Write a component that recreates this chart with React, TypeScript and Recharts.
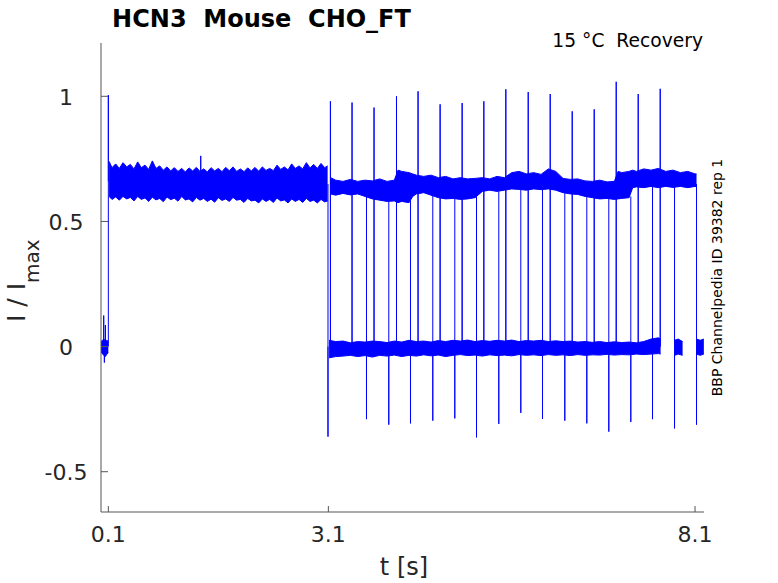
import React from "react";
import { ComposedChart, Area, Line, XAxis, YAxis } from "recharts";

const BLUE = "#0000ff";
const INK = "#262626";
const AXIS = "#555555";
const FONT = '"DejaVu Sans", sans-serif';

// baseline before the conditioning pulse
const preT = [0.0, 0.02, 0.04, 0.06, 0.08, 0.1];
const preLo = [-0.02, -0.03, -0.035, -0.04, -0.03, -0.025];
const preHi = [0.02, 0.025, 0.03, 0.02, 0.025, 0.02];

// conditioning pulse 0.1 - 3.1 s, noise envelope
const pulseT = [
  0.11, 0.15, 0.2, 0.25, 0.3, 0.35, 0.4, 0.45, 0.5, 0.55, 0.6, 0.65, 0.7, 0.75,
  0.8, 0.85, 0.9, 0.95, 1.0, 1.05, 1.1, 1.15, 1.2, 1.25, 1.3, 1.35, 1.4, 1.45,
  1.5, 1.55, 1.6, 1.65, 1.7, 1.75, 1.8, 1.85, 1.9, 1.95, 2.0, 2.05, 2.1, 2.15,
  2.2, 2.25, 2.3, 2.35, 2.4, 2.45, 2.5, 2.55, 2.6, 2.65, 2.7, 2.75, 2.8, 2.85,
  2.9, 2.95, 3.0, 3.05, 3.09,
];
const pulseLo = [
  0.6, 0.588, 0.598, 0.585, 0.6, 0.59, 0.596, 0.582, 0.6, 0.588, 0.594, 0.58,
  0.597, 0.586, 0.592, 0.579, 0.598, 0.587, 0.593, 0.581, 0.6, 0.586, 0.59,
  0.578, 0.596, 0.585, 0.592, 0.58, 0.589, 0.577, 0.595, 0.584, 0.59, 0.58,
  0.596, 0.585, 0.588, 0.576, 0.592, 0.582, 0.585, 0.574, 0.59, 0.58, 0.588,
  0.576, 0.594, 0.582, 0.586, 0.574, 0.59, 0.58, 0.588, 0.576, 0.592, 0.58,
  0.585, 0.574, 0.588, 0.578, 0.582,
];
const pulseHi = [
  0.74, 0.715, 0.73, 0.712, 0.735, 0.718, 0.728, 0.71, 0.738, 0.715, 0.725,
  0.708, 0.742, 0.712, 0.722, 0.705, 0.718, 0.702, 0.715, 0.7, 0.712, 0.698,
  0.714, 0.702, 0.716, 0.7, 0.71, 0.698, 0.715, 0.702, 0.712, 0.699, 0.716,
  0.703, 0.718, 0.7, 0.71, 0.699, 0.714, 0.702, 0.716, 0.701, 0.718, 0.704,
  0.712, 0.703, 0.725, 0.708, 0.718, 0.706, 0.73, 0.712, 0.722, 0.71, 0.735,
  0.714, 0.728, 0.712, 0.732, 0.715, 0.722,
];

// test pulses after 3.1 s, envelope of all sweeps
const testT = [
  3.13, 3.2, 3.3, 3.4, 3.5, 3.6, 3.7, 3.8, 3.9, 4.0, 4.05, 4.1, 4.2, 4.25, 4.3,
  4.4, 4.5, 4.6, 4.7, 4.8, 4.9, 5.0, 5.1, 5.2, 5.3, 5.4, 5.5, 5.6, 5.7, 5.8,
  5.9, 6.0, 6.1, 6.2, 6.3, 6.4, 6.5, 6.6, 6.7, 6.8, 6.9, 7.0, 7.05, 7.1, 7.2,
  7.25, 7.3, 7.4, 7.5, 7.6, 7.7, 7.8, 7.9, 8.0, 8.1, 8.12,
];
const testLo = [
  0.61, 0.605, 0.612, 0.606, 0.61, 0.6, 0.59, 0.585, 0.58, 0.582, 0.575, 0.58,
  0.575, 0.6, 0.61, 0.615, 0.605, 0.595, 0.59, 0.592, 0.588, 0.59, 0.595, 0.62,
  0.625, 0.62, 0.625, 0.63, 0.628, 0.625, 0.63, 0.627, 0.63, 0.625, 0.615, 0.61,
  0.608, 0.6, 0.595, 0.59, 0.592, 0.588, 0.59, 0.592, 0.595, 0.635, 0.638,
  0.635, 0.64, 0.635, 0.64, 0.636, 0.64, 0.635, 0.64, 0.638,
];
const testHi = [
  0.675, 0.665, 0.66, 0.668, 0.66, 0.665, 0.662, 0.67, 0.66, 0.665, 0.705, 0.7,
  0.695, 0.69, 0.685, 0.68, 0.685, 0.675, 0.68, 0.67, 0.675, 0.67, 0.672, 0.675,
  0.67, 0.68, 0.675, 0.695, 0.7, 0.69, 0.695, 0.688, 0.71, 0.7, 0.672, 0.668,
  0.67, 0.662, 0.66, 0.665, 0.658, 0.66, 0.7, 0.695, 0.7, 0.705, 0.7, 0.71,
  0.705, 0.712, 0.7, 0.705, 0.695, 0.7, 0.69, 0.69,
];

// zero level between pulses
const zeroT = [
  3.11, 3.2, 3.3, 3.4, 3.5, 3.6, 3.7, 3.8, 3.9, 4.0, 4.1, 4.2, 4.3, 4.4, 4.5,
  4.6, 4.7, 4.8, 4.9, 5.0, 5.1, 5.2, 5.3, 5.4, 5.5, 5.6, 5.7, 5.8, 5.9, 6.0,
  6.1, 6.2, 6.3, 6.4, 6.5, 6.6, 6.7, 6.8, 6.9, 7.0, 7.1, 7.2, 7.3, 7.4, 7.5,
  7.6, 7.63,
];
const zeroLo = [
  -0.045, -0.04, -0.038, -0.035, -0.04, -0.036, -0.042, -0.035, -0.038, -0.034,
  -0.04, -0.035, -0.038, -0.033, -0.037, -0.034, -0.04, -0.035, -0.032, -0.036,
  -0.034, -0.038, -0.033, -0.036, -0.034, -0.037, -0.032, -0.035, -0.033,
  -0.036, -0.032, -0.035, -0.033, -0.036, -0.032, -0.035, -0.033, -0.034,
  -0.031, -0.034, -0.032, -0.033, -0.03, -0.032, -0.03, -0.028, -0.03,
];
const zeroHi = [
  0.025, 0.02, 0.022, 0.015, 0.02, 0.018, 0.022, 0.02, 0.016, 0.022, 0.018,
  0.025, 0.02, 0.022, 0.018, 0.024, 0.02, 0.025, 0.022, 0.026, 0.02, 0.024,
  0.021, 0.025, 0.022, 0.026, 0.02, 0.024, 0.022, 0.025, 0.02, 0.023, 0.02,
  0.022, 0.018, 0.02, 0.017, 0.02, 0.016, 0.019, 0.016, 0.018, 0.015, 0.02,
  0.03, 0.035, 0.03,
];
const tailAT = [7.82, 7.87, 7.93];
const tailALo = [-0.035, -0.03, -0.035];
const tailAHi = [0.025, 0.03, 0.02];
const tailBT = [8.12, 8.17, 8.22];
const tailBLo = [-0.03, -0.035, -0.03];
const tailBHi = [0.03, 0.025, 0.03];

// onset transients of the test pulses
const upT = [
  3.128, 3.423, 3.723, 4.029, 4.323, 4.624, 4.924, 5.22, 5.52, 5.825, 6.125,
  6.425, 6.725, 7.025, 7.325, 7.625,
];
const upPeak = [
  0.98, 0.975, 0.955, 1.0, 1.02, 0.968, 0.973, 0.98, 1.028, 1.017, 1.009, 0.94,
  0.948, 1.058, 1.009, 1.03,
];

// tail transients at pulse ends
const downT = [
  3.095, 3.62, 3.924, 4.22, 4.524, 4.824, 5.12, 5.424, 5.724, 6.02, 6.324,
  6.624, 6.924, 7.224, 7.52, 7.82, 8.12,
];
const downTrough = [
  -0.36, -0.29, -0.312, -0.307, -0.296, -0.287, -0.363, -0.309, -0.265, -0.289,
  -0.296, -0.307, -0.34, -0.301, -0.29, -0.327, -0.312,
];
const downFrom = [
  0.65, 0.62, 0.6, 0.6, 0.63, 0.61, 0.6, 0.62, 0.64, 0.64, 0.66, 0.62, 0.6,
  0.6, 0.65, 0.65, 0.65,
];

// single glitches
const glitchT = [0.037, 0.06, 0.046, 0.1, 1.36];
const glitchFrom = [0, 0, 0, 0, 0.7];
const glitchTo = [0.124, 0.086, -0.064, 1.005, 0.762];
const glitchBack = [0, 0, 0, 0.66, 0.7];

const xTicks = [0.1, 3.1, 8.1];
const yTicks = [-0.5, 0, 0.5, 1];

type Pt = { t: number; v: number | null };

const band = (t: number[], lo: number[], hi: number[]) =>
  t.map((x, i) => ({ t: x, r: [lo[i], hi[i]] }));

const spikePts: Pt[] = [];
glitchT.forEach((t, i) => {
  spikePts.push(
    { t, v: glitchFrom[i] },
    { t, v: glitchTo[i] },
    { t, v: glitchBack[i] },
    { t, v: null }
  );
});
upT.forEach((t, i) => {
  spikePts.push({ t, v: 0 }, { t, v: upPeak[i] }, { t, v: 0 }, { t, v: null });
});
downT.forEach((t, i) => {
  spikePts.push(
    { t, v: downFrom[i] },
    { t, v: downTrough[i] },
    { t, v: 0 },
    { t, v: null }
  );
});

const bands = [
  band(preT, preLo, preHi),
  band(pulseT, pulseLo, pulseHi),
  band(testT, testLo, testHi),
  band(zeroT, zeroLo, zeroHi),
  band(tailAT, tailALo, tailAHi),
  band(tailBT, tailBLo, tailBHi),
];

const XTick = (props: any) => (
  <text
    x={props.x}
    y={541.5}
    textAnchor="middle"
    fontSize={22}
    fontFamily={FONT}
    fill={INK}
  >
    {props.payload.value}
  </text>
);

const YTick = (props: any) => (
  <text
    x={66}
    y={props.y + 8.5}
    textAnchor="middle"
    fontSize={22}
    fontFamily={FONT}
    fill={INK}
  >
    {String(props.payload.value)}
  </text>
);

export default function App() {
  return (
    <div style={{ position: "absolute", left: 0, top: 0, width: 778, height: 583, background: "#fff" }}>
      <ComposedChart
        width={778}
        height={583}
        margin={{ top: 43, right: 74, bottom: 0, left: 0 }}
      >
        <XAxis
          type="number"
          dataKey="t"
          domain={[0, 8.222]}
          ticks={xTicks}
          interval={0}
          allowDataOverflow
          height={71}
          tickSize={-6}
          axisLine={{ stroke: AXIS }}
          tickLine={{ stroke: AXIS }}
          tick={XTick}
        />
        <YAxis
          type="number"
          domain={[-0.661, 1.213]}
          ticks={yTicks}
          interval={0}
          allowDataOverflow
          width={101}
          tickSize={-7}
          axisLine={{ stroke: AXIS }}
          tickLine={{ stroke: AXIS }}
          tick={YTick}
        />
        {bands.map((d, i) => (
          <Area
            key={i}
            data={d}
            dataKey="r"
            type="linear"
            stroke={BLUE}
            strokeWidth={1}
            fill={BLUE}
            fillOpacity={1}
            dot={false}
            activeDot={false}
            isAnimationActive={false}
          />
        ))}
        <Line
          data={spikePts}
          dataKey="v"
          type="linear"
          stroke={BLUE}
          strokeWidth={1}
          dot={false}
          activeDot={false}
          connectNulls={false}
          isAnimationActive={false}
        />
      </ComposedChart>
      <svg
        width={778}
        height={583}
        style={{ position: "absolute", left: 0, top: 0, pointerEvents: "none" }}
      >
        <text
          x={261.5}
          y={26.5}
          textAnchor="middle"
          fontSize={24}
          fontWeight="bold"
          fontFamily={FONT}
          fill="#000"
          style={{ whiteSpace: "pre" }}
        >
          {"HCN3  Mouse  CHO_FT"}
        </text>
        <text
          x={703}
          y={47.3}
          textAnchor="end"
          fontSize={18.7}
          fontFamily={FONT}
          fill="#000"
          style={{ whiteSpace: "pre" }}
        >
          {"15 °C  Recovery"}
        </text>
        <text
          transform="translate(721.5, 277.5) rotate(-90)"
          textAnchor="middle"
          fontSize={14}
          fontFamily={FONT}
          fill="#000"
        >
          BBP Channelpedia ID 39382 rep 1
        </text>
        <text
          transform="translate(25, 322) rotate(-90)"
          fontSize={25}
          fontFamily={FONT}
          fill={INK}
          style={{ whiteSpace: "pre" }}
        >
          {"I / I"}
          <tspan fontSize={20} dy={14}>
            max
          </tspan>
        </text>
        <text
          x={404}
          y={575}
          textAnchor="middle"
          fontSize={24}
          fontFamily={FONT}
          fill={INK}
        >
          t [s]
        </text>
      </svg>
    </div>
  );
}
